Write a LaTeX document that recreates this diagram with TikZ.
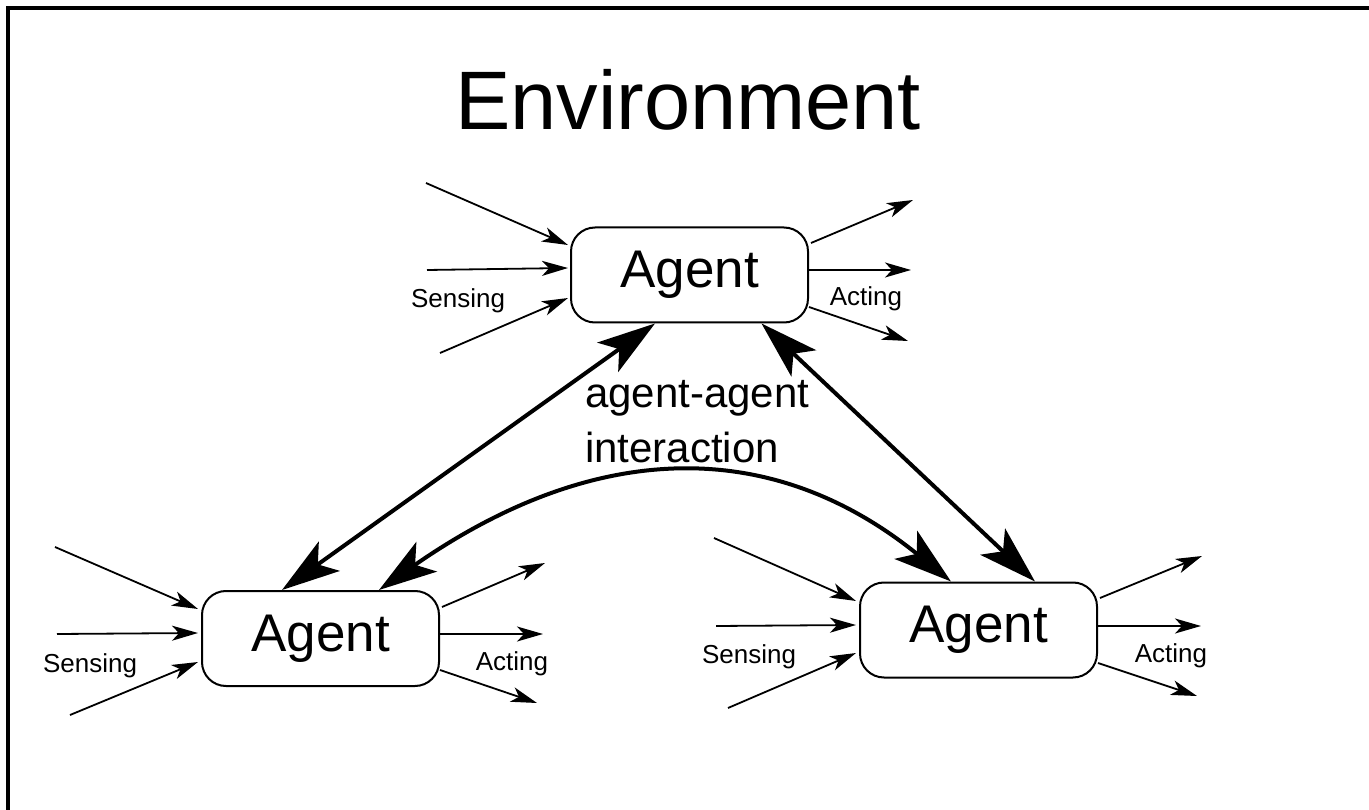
\documentclass[tikz,border=0pt]{standalone}
\usepackage{fontspec}
\setmainfont{Liberation Sans}
\usetikzlibrary{arrows.meta,calc}
\begin{document}
\begin{tikzpicture}[x=1pt,y=-1pt,
  box/.style={draw,line width=2pt,rounded corners=24pt,minimum width=237pt,minimum height=95pt,inner sep=0pt,font=\fontsize{53}{60}\selectfont},
  thinarrow/.style={line width=1.8pt,-{Stealth[length=26pt,width=15pt,inset=7pt]}},
  bigarrow/.style={line width=4pt,{Stealth[length=58pt,width=36pt,inset=14pt]}-{Stealth[length=58pt,width=36pt,inset=14pt]}},
  lbl/.style={font=\fontsize{26}{30}\selectfont,anchor=base,inner sep=0pt},
  aalbl/.style={font=\fontsize{42}{50}\selectfont,anchor=base west,inner sep=0pt},
]
\useasboundingbox (0,0) rectangle (1369,810);
\draw[line width=4pt] (8,815) -- (8,8) -- (1375,8);

\node[font=\fontsize{83}{90}\selectfont,anchor=base,inner sep=0pt] (env) at (688,130) {Environment};

\node[box] (T) at (689.5,275) {Agent};
\node[box] (L) at (320.5,638.5) {Agent};
\node[box] (R) at (978.5,630) {Agent};

% top agent sensing / acting
\coordinate (ts1) at (426,183);
\coordinate (ts2) at (427,270);
\coordinate (ts3) at (440,353);
\coordinate (ta1) at (913,200);
\coordinate (ta2) at (911,270);
\coordinate (ta3) at (908,341);
\draw[thinarrow] (ts1) -- ($(T.west)+(-2,-30)$);
\draw[thinarrow] (ts2) -- ($(T.west)+(-2,-7)$);
\draw[thinarrow] (ts3) -- ($(T.west)+(-2,23)$);
\draw[thinarrow] ($(T.east)+(2,-32)$) -- (ta1);
\draw[thinarrow] ($(T.east)+(0,-5)$) -- (ta2);
\draw[thinarrow] ($(T.east)+(0,32)$) -- (ta3);
\node[lbl] (tsl) at (458,308) {Sensing};
\node[lbl] (tal) at (866,306) {Acting};

% left agent
\coordinate (ls1) at (55,547);
\coordinate (ls2) at (57,634);
\coordinate (ls3) at (70,715);
\coordinate (la1) at (545,563);
\coordinate (la2) at (543,634);
\coordinate (la3) at (537,703);
\draw[thinarrow] (ls1) -- ($(L.west)+(-3,-29.5)$);
\draw[thinarrow] (ls2) -- ($(L.west)+(-3,-5.5)$);
\draw[thinarrow] (ls3) -- ($(L.west)+(-3,23.5)$);
\draw[thinarrow] ($(L.east)+(2,-31.5)$) -- (la1);
\draw[thinarrow] ($(L.east)+(0,-4.5)$) -- (la2);
\draw[thinarrow] ($(L.east)+(0,31.5)$) -- (la3);
\node[lbl] (lsl) at (90,672) {Sensing};
\node[lbl] (lal) at (512,670) {Acting};

% right agent
\coordinate (rs1) at (714,538);
\coordinate (rs2) at (716,626);
\coordinate (rs3) at (728,708);
\coordinate (ra1) at (1202,556);
\coordinate (ra2) at (1201,626);
\coordinate (ra3) at (1197,696);
\draw[thinarrow] (rs1) -- ($(R.west)+(-3,-29)$);
\draw[thinarrow] (rs2) -- ($(R.west)+(-3,-5)$);
\draw[thinarrow] (rs3) -- ($(R.west)+(-3,23)$);
\draw[thinarrow] ($(R.east)+(2,-32)$) -- (ra1);
\draw[thinarrow] ($(R.east)+(0,-4)$) -- (ra2);
\draw[thinarrow] ($(R.east)+(0,33)$) -- (ra3);
\node[lbl] (rsl) at (749,663) {Sensing};
\node[lbl] (ral) at (1171,662) {Acting};

% agent-agent interaction
\draw[bigarrow] ($(T.south)+(-34.5,0)$) -- ($(L.north)+(-38.5,0)$);
\draw[bigarrow] ($(T.south)+(72,0)$) -- ($(R.north)+(56.5,0)$);
\draw[bigarrow] ($(L.north)+(58.5,0)$) .. controls +(215,-150) and +(-180,-146) .. ($(R.north)+(-27.5,0)$);
\node[aalbl] (aa1) at (585,408) {agent-agent};
\node[aalbl] (aa2) at (585,462) {interaction};
\end{tikzpicture}
\end{document}
